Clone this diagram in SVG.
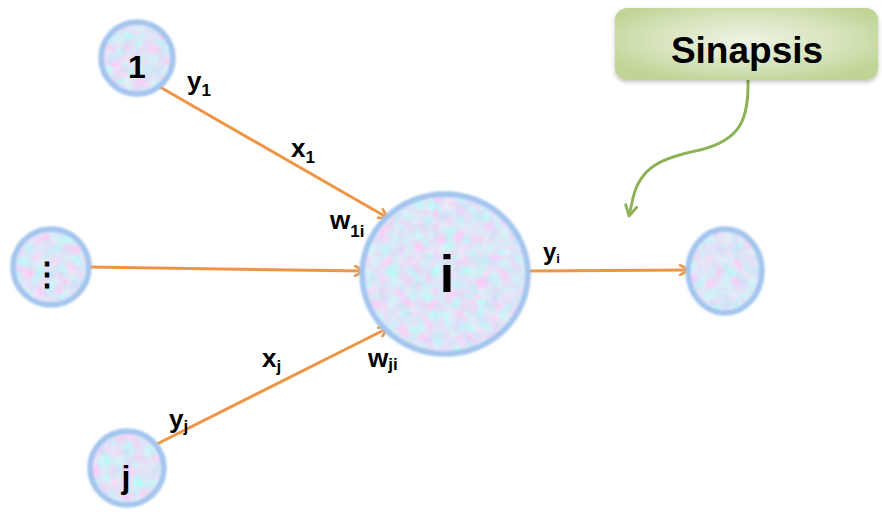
<svg xmlns="http://www.w3.org/2000/svg" width="882" height="512" viewBox="0 0 882 512">
<defs>
  <filter id="tex" x="0" y="0" width="100%" height="100%">
    <feTurbulence type="fractalNoise" baseFrequency="0.09" numOctaves="3" seed="7" result="n"/>
    <feColorMatrix in="n" type="matrix" values="0.6 -0.35 0 0 0.6  -0.25 0.45 0 0 0.68  0 0 0 0 0.93  0 0 0 0 1" result="c"/>
    <feComposite in="c" in2="SourceGraphic" operator="in"/>
  </filter>
  <filter id="glow" x="-20%" y="-20%" width="140%" height="140%">
    <feGaussianBlur stdDeviation="1.3"/>
  </filter>
  <filter id="shadow" x="-10%" y="-20%" width="120%" height="150%">
    <feDropShadow dx="0" dy="2" stdDeviation="2" flood-color="#000" flood-opacity="0.25"/>
  </filter>
  <radialGradient id="boxg" cx="0.5" cy="0.45" r="0.6">
    <stop offset="0" stop-color="#eef3e4"/>
    <stop offset="0.6" stop-color="#d6e3bb"/>
    <stop offset="1" stop-color="#bfd495"/>
  </radialGradient>
  <marker id="oa" viewBox="0 0 12 12" refX="10" refY="6" markerWidth="12" markerHeight="12" markerUnits="userSpaceOnUse" orient="auto">
    <path d="M1,1 L10,6 L1,11" fill="none" stroke="#ef9546" stroke-width="2.6" stroke-linecap="round" stroke-linejoin="round"/>
  </marker>
  <marker id="ga" viewBox="0 0 12 12" refX="10" refY="6" markerWidth="14" markerHeight="14" markerUnits="userSpaceOnUse" orient="auto">
    <path d="M1,1 L10,6 L1,11" fill="none" stroke="#8db356" stroke-width="2.4" stroke-linecap="round" stroke-linejoin="round"/>
  </marker>
</defs>
<style>
  .ring { fill: none; stroke: #a3c5ee; stroke-width: 5.5; filter: url(#glow); }
  .body { fill: #cdd6f2; filter: url(#tex); }
  .conn { fill: none; stroke: #ef9546; stroke-width: 3; marker-end: url(#oa); }
  .lbl { font-family: "Liberation Sans", Arial, sans-serif; font-weight: bold; fill: #000; }
  .main { font-size: 26px; }
  .sub { font-size: 17px; }
</style>
<rect width="882" height="512" fill="#ffffff"/>

<g id="connectors">
  <line class="conn" x1="160" y1="87" x2="388" y2="218"/>
  <line class="conn" x1="88" y1="267" x2="364" y2="271"/>
  <line class="conn" x1="151" y1="447" x2="388" y2="328"/>
  <line class="conn" x1="528" y1="271" x2="689" y2="270"/>
  <path d="M748,80 C749,120 740,140 700,150 C660,158 640,168 633,198 L629,216" fill="none" stroke="#8db356" stroke-width="3" marker-end="url(#ga)"/>
</g>

<g id="node-1">
  <circle class="body" cx="137" cy="58" r="36"/>
  <circle class="ring" cx="137" cy="58" r="36"/>
  <text class="lbl" x="137" y="78" font-size="32" text-anchor="middle">1</text>
</g>

<g id="node-dots">
  <circle class="body" cx="51" cy="267" r="38"/>
  <circle class="ring" cx="51" cy="267" r="38"/>
  <text class="lbl" x="47" y="285" font-size="32" text-anchor="middle" font-family="DejaVu Sans, sans-serif">⋮</text>
</g>

<g id="node-i">
  <ellipse class="body" cx="445" cy="274" rx="83" ry="80"/>
  <ellipse class="ring" cx="445" cy="274" rx="83" ry="80"/>
  <text class="lbl" x="447" y="292" font-size="52" text-anchor="middle">i</text>
</g>

<g id="node-j">
  <circle class="body" cx="127" cy="468" r="37"/>
  <circle class="ring" cx="127" cy="468" r="37"/>
  <text class="lbl" x="126" y="488" font-size="32" text-anchor="middle">j</text>
</g>

<g id="node-out">
  <ellipse class="body" cx="725" cy="271" rx="37" ry="42"/>
  <ellipse class="ring" cx="725" cy="271" rx="37" ry="42"/>
</g>

<g id="sinapsis">
  <rect x="615" y="8" width="263" height="72" rx="12" fill="url(#boxg)" filter="url(#shadow)"/>
  <text class="lbl" x="747" y="63" font-size="37" text-anchor="middle">Sinapsis</text>
</g>

<g id="labels">
  <text class="lbl main" x="187" y="90">y<tspan class="sub" dy="6">1</tspan></text>
  <text class="lbl main" x="291" y="157">x<tspan class="sub" dy="6">1</tspan></text>
  <text class="lbl main" x="330" y="229">w<tspan class="sub" dy="8">1i</tspan></text>
  <text class="lbl" x="543" y="260" font-size="24">y<tspan font-size="13" dy="3">i</tspan></text>
  <text class="lbl main" x="262" y="367">x<tspan class="sub" dy="5">j</tspan></text>
  <text class="lbl main" x="368" y="367">w<tspan class="sub" dy="3">ji</tspan></text>
  <text class="lbl main" x="169" y="428">y<tspan class="sub" dy="4">j</tspan></text>
</g>
</svg>
